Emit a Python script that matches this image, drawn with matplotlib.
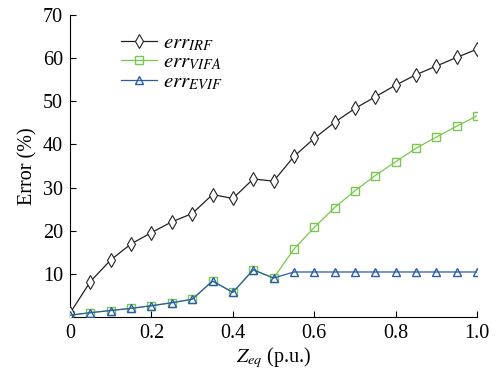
import numpy as np
import matplotlib
matplotlib.use('Agg')
import matplotlib.pyplot as plt

# ── Data ─────────────────────────────────────────────────────────────────────
z_eq = [0.0, 0.05, 0.1, 0.15, 0.2, 0.25, 0.3, 0.35, 0.4, 0.45, 0.5,
        0.55, 0.6, 0.65, 0.7, 0.75, 0.8, 0.85, 0.9, 0.95, 1.0]
err_irf = [1.0, 8.3, 13.3, 17.0, 19.6, 22.1, 24.0, 28.4, 27.5, 32.0, 31.5,
           37.2, 41.4, 45.1, 48.3, 51.0, 53.7, 56.1, 58.1, 60.1, 62.0]
err_vifa = [0.5, 1.1, 1.6, 2.1, 2.7, 3.4, 4.2, 8.4, 5.8, 11.0, 9.1,
            15.8, 20.8, 25.4, 29.3, 32.8, 36.0, 39.1, 41.7, 44.2, 46.6]
err_evif = [0.5, 1.1, 1.6, 2.1, 2.7, 3.4, 4.2, 8.4, 5.8, 11.0, 9.1,
            10.5, 10.5, 10.5, 10.5, 10.5, 10.5, 10.5, 10.5, 10.5, 10.5]
x_ticks = [0, 0.2, 0.4, 0.6, 0.8, 1.0]
x_labels = ['0', '0.2', '0.4', '0.6', '0.8', '1.0']
y_ticks = [10, 20, 30, 40, 50, 60, 70]
# ─────────────────────────────────────────────────────────────────────────────

plt.rcParams['font.family'] = ['Liberation Serif', 'DejaVu Serif']
plt.rcParams['mathtext.fontset'] = 'stix'

fig = plt.figure(figsize=(4.97, 3.73), dpi=100)
ax = fig.add_axes([0.141, 0.149, 0.819, 0.812])

ax.plot(z_eq, err_irf, color='#222222', lw=0.9, marker='d', ms=7,
        mfc='white', mec='#222222', mew=0.8, label='$err_{IRF}$', zorder=3)
ax.plot(z_eq, err_vifa, color='#78c850', lw=0.9, marker='s', ms=5.5,
        mfc='none', mec='#78c850', mew=1.0, label='$err_{VIFA}$', zorder=2)
ax.plot(z_eq, err_evif, color='#2a5ca8', lw=0.9, marker='^', ms=6,
        mfc='none', mec='#2a5ca8', mew=1.0, label='$err_{EVIF}$', zorder=4)

ax.set_xlim(0, 1.0)
ax.set_ylim(0, 70)
ax.set_xticks(x_ticks)
ax.set_xticklabels(x_labels)
ax.set_yticks(y_ticks)
ax.tick_params(direction='in', labelsize=14.5, length=4, pad=5)
for s in ['top', 'right']:
    ax.spines[s].set_visible(False)

ax.set_xlabel('$Z_{eq}$ (p.u.)', fontsize=14.5, labelpad=1)
ax.set_ylabel('Error (%)', fontsize=14.5, labelpad=4)

ax.legend(loc='upper left', bbox_to_anchor=(0.08, 1.0), frameon=False,
          fontsize=15, handlelength=1.7, labelspacing=0.0, handletextpad=0.3)

fig.savefig('out.png', dpi=100)
